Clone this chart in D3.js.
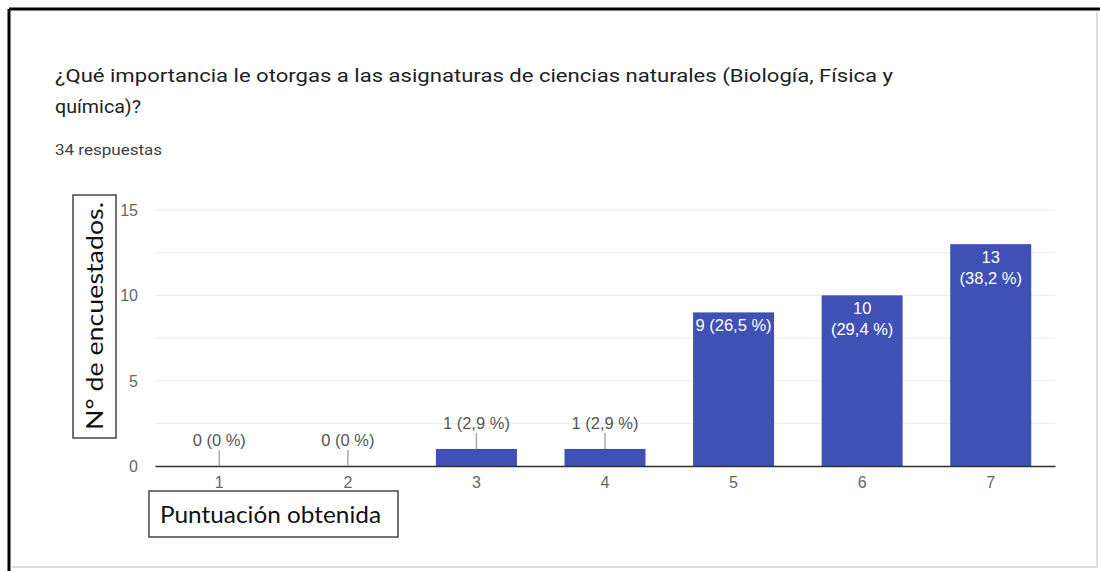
<!DOCTYPE html>
<html lang="es">
<head>
	<meta charset="UTF-8">
	<title>Importancia ciencias naturales</title>
	<script src="https://cdn.jsdelivr.net/npm/d3@7"></script>
	<style type="text/css">
		body { margin: 0; background: #fff; }
		.grid line { stroke: #ececec; }
		.tick-label { font-family: "Liberation Sans", Arial, sans-serif; font-size: 16px; fill: #666; }
		.val { font-family: "Liberation Sans", Arial, sans-serif; font-size: 16.5px; }
	</style>
</head>
<body>

<script type="text/javascript">
	var categories = ['1', '2', '3', '4', '5', '6', '7'];
	var counts = [0, 0, 1, 1, 9, 10, 13];
	var percents = ['0', '0', '2,9', '2,9', '26,5', '29,4', '38,2'];
	var yTicks = [0, 5, 10, 15];
	var yGrid = [0, 2.5, 5, 7.5, 10, 12.5, 15];

	window.onload = function () {

		var W = 1100, H = 571;
		var margin = {top: 210, left: 155, bottom: 105, right: 45};
		var width = W - margin.left - margin.right;
		var height = H - margin.top - margin.bottom;

		var svg = d3.select('body').append('svg')
			.attr('width', W)
			.attr('height', H);

		// frame (screenshot borders)
		svg.append('line').attr('x1', 9).attr('y1', 9).attr('x2', W).attr('y2', 9)
			.style('stroke', '#000').style('stroke-width', 3);
		svg.append('line').attr('x1', 9).attr('y1', 9).attr('x2', 9).attr('y2', H)
			.style('stroke', '#000').style('stroke-width', 3);
		svg.append('line').attr('x1', 1097).attr('y1', 12).attr('x2', 1097).attr('y2', 567)
			.style('stroke', '#ddd').style('stroke-width', 2);
		svg.append('line').attr('x1', 12).attr('y1', 567).attr('x2', 1097).attr('y2', 567)
			.style('stroke', '#ddd').style('stroke-width', 2);

		// title
		svg.append('text')
			.attr('x', 55).attr('y', 82)
			.attr('textLength', 838).attr('lengthAdjust', 'spacingAndGlyphs')
			.style('font-family', 'Roboto, sans-serif')
			.style('font-size', '19px')
			.style('fill', '#202124')
			.text('¿Qué importancia le otorgas a las asignaturas de ciencias naturales (Biología, Física y');
		svg.append('text')
			.attr('x', 55).attr('y', 113)
			.attr('textLength', 86).attr('lengthAdjust', 'spacingAndGlyphs')
			.style('font-family', 'Roboto, sans-serif')
			.style('font-size', '19px')
			.style('fill', '#202124')
			.text('química)?');

		svg.append('text')
			.attr('x', 55).attr('y', 155)
			.attr('textLength', 107).attr('lengthAdjust', 'spacingAndGlyphs')
			.style('font-family', 'Roboto, sans-serif')
			.style('font-size', '14px')
			.style('fill', '#3c4043')
			.text('34 respuestas');

		var g = svg.append('g')
			.attr('transform', 'translate(' + margin.left + ',' + margin.top + ')');

		var x = d3.scaleBand()
			.domain(categories)
			.range([0, width])
			.paddingInner(0.37)
			.paddingOuter(0.185);

		var y = d3.scaleLinear()
			.domain([0, 15])
			.range([height, 0]);

		// grid
		g.append('g').attr('class', 'grid')
			.selectAll('line')
			.data(yGrid)
			.enter().append('line')
			.attr('x1', 0).attr('x2', width)
			.attr('y1', function (d) { return y(d); })
			.attr('y2', function (d) { return y(d); });

		// y tick labels
		var yAxis = g.append('g')
			.call(d3.axisLeft(y).tickValues(yTicks).tickSize(0).tickPadding(17));
		yAxis.select('.domain').remove();
		yAxis.selectAll('text').attr('class', 'tick-label').attr('dy', '0.35em');

		// bars
		g.selectAll('.bar')
			.data(counts)
			.enter().append('rect')
			.attr('class', 'bar')
			.attr('x', function (d, i) { return x(categories[i]); })
			.attr('width', x.bandwidth())
			.attr('y', function (d) { return y(d); })
			.attr('height', function (d) { return height - y(d); })
			.style('fill', '#3f51b5');

		// baseline + x labels
		var xAxis = g.append('g')
			.attr('transform', 'translate(0,' + height + ')')
			.call(d3.axisBottom(x).tickSize(0).tickPadding(11));
		xAxis.select('.domain').style('stroke', '#333').style('stroke-width', 1.5);
		xAxis.selectAll('text').attr('class', 'tick-label');

		// value labels
		counts.forEach(function (d, i) {
			var cx = x(categories[i]) + x.bandwidth() / 2;
			var full = d + ' (' + percents[i] + ' %)';
			if (d >= 5) {
				var t = g.append('text').attr('class', 'val')
					.attr('text-anchor', 'middle')
					.style('fill', '#fff')
					.attr('x', cx).attr('y', y(d) + 19)
					.text(full);
				if (t.node().getComputedTextLength() > x.bandwidth() - 2) {
					t.text(null);
					t.append('tspan').attr('x', cx).text(d);
					t.append('tspan').attr('x', cx).attr('dy', 21).text('(' + percents[i] + ' %)');
				}
			} else {
				g.append('line')
					.attr('x1', cx).attr('x2', cx)
					.attr('y1', y(d)).attr('y2', y(d) - 16)
					.style('stroke', '#aaa').style('stroke-width', 1.5);
				g.append('text').attr('class', 'val')
					.attr('text-anchor', 'middle')
					.style('fill', '#555')
					.attr('x', cx).attr('y', y(d) - 20)
					.text(full);
			}
		});

		// annotation boxes
		svg.append('rect')
			.attr('x', 73).attr('y', 195).attr('width', 43).attr('height', 243)
			.style('fill', '#fff').style('stroke', '#444').style('stroke-width', 1.5);
		svg.append('text')
			.attr('transform', 'translate(103,316) rotate(-90)')
			.attr('text-anchor', 'middle')
			.attr('textLength', 228).attr('lengthAdjust', 'spacingAndGlyphs')
			.style('font-family', 'Lato, sans-serif')
			.style('font-size', '23px')
			.style('fill', '#111')
			.text('N° de encuestados.');

		svg.append('rect')
			.attr('x', 149).attr('y', 491).attr('width', 249).attr('height', 46)
			.style('fill', '#fff').style('stroke', '#444').style('stroke-width', 1.5);
		svg.append('text')
			.attr('x', 160).attr('y', 523)
			.attr('textLength', 221).attr('lengthAdjust', 'spacingAndGlyphs')
			.style('font-family', 'Lato, sans-serif')
			.style('font-size', '23px')
			.style('fill', '#111')
			.text('Puntuación obtenida');
	};
</script>

</body>
</html>
